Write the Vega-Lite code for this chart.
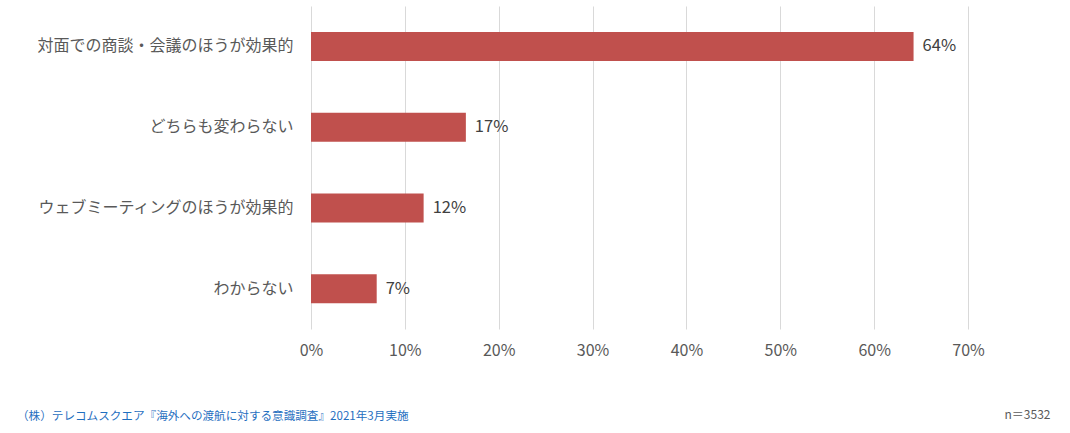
{
  "$schema": "https://vega.github.io/schema/vega-lite/v6.json",
  "autosize": {"type": "none"},
  "width": 657,
  "height": 323,
  "padding": {"left": 311, "top": 6, "right": 102, "bottom": 104},
  "background": "white",
  "config": {
    "font": "Noto Sans CJK JP",
    "view": {"stroke": null}
  },
  "title": {
    "text": "（株）テレコムスクエア『海外への渡航に対する意識調査』2021年3月実施",
    "orient": "bottom",
    "anchor": "start",
    "frame": "group",
    "dx": -294,
    "offset": -9,
    "fontSize": 11.6,
    "fontWeight": "normal",
    "color": "#1F6FBF",
    "font": "Noto Sans CJK JP"
  },
  "data": {
    "values": [
      {"category": "対面での商談・会議のほうが効果的", "value": 0.642, "label": "64%"},
      {"category": "どちらも変わらない", "value": 0.165, "label": "17%"},
      {"category": "ウェブミーティングのほうが効果的", "value": 0.12, "label": "12%"},
      {"category": "わからない", "value": 0.07, "label": "7%"}
    ]
  },
  "encoding": {
    "y": {
      "field": "category",
      "type": "nominal",
      "sort": null,
      "scale": {"paddingInner": 0, "paddingOuter": 0},
      "axis": {
        "title": null,
        "domain": false,
        "ticks": false,
        "labelFontSize": 16,
        "labelColor": "#595959",
        "labelPadding": 18,
        "labelFont": "Noto Sans CJK JP",
        "labelLimit": 320
      }
    },
    "x": {
      "field": "value",
      "type": "quantitative",
      "scale": {"domain": [0, 0.7], "nice": false},
      "axis": {
        "format": ".0%",
        "values": [0, 0.1, 0.2, 0.3, 0.4, 0.5, 0.6, 0.7],
        "labelOverlap": false,
        "labelFlush": false,
        "domain": false,
        "ticks": false,
        "grid": true,
        "gridColor": "#D9D9D9",
        "gridWidth": 1,
        "labelFontSize": 16,
        "labelColor": "#595959",
        "labelPadding": 13,
        "labelFont": "Noto Sans CJK JP",
        "title": "n＝3532",
        "titleFontSize": 12,
        "titleFontWeight": "normal",
        "titleColor": "#595959",
        "titleX": 739,
        "titleY": 85,
        "titleAlign": "right",
        "titleBaseline": "middle",
        "titleFont": "Noto Sans CJK JP"
      }
    }
  },
  "layer": [
    {
      "mark": {"type": "bar", "color": "#C0504D", "size": 29}
    },
    {
      "mark": {"type": "text", "align": "left", "dx": 9, "fontSize": 16.5, "color": "#404040", "font": "Noto Sans CJK JP"},
      "encoding": {"text": {"field": "label"}}
    }
  ]
}
